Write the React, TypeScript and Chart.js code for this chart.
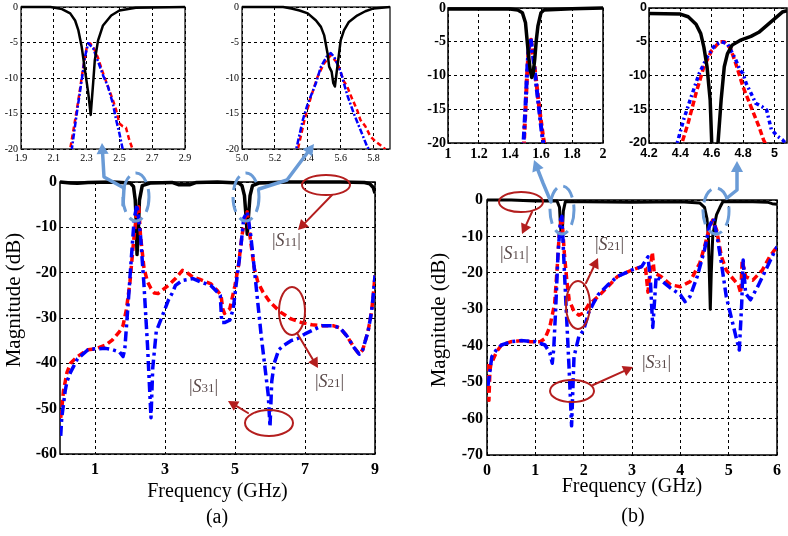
import React, { useEffect, useRef } from "react";
import { Chart, registerables } from "chart.js";
Chart.register(...registerables);

// ---------------- DATA ----------------
// (a) main chart
const A_X_TICKS = [1, 3, 5, 7, 9];
const A_Y_TICKS = [0, -10, -20, -30, -40, -50, -60];
const A_S11_F = [0, 0.3, 0.5, 0.8, 1.5, 2.0, 2.1, 2.15, 2.18, 2.2, 2.23, 2.27, 2.35, 2.6, 3.2, 3.4, 3.7, 3.9, 4.5, 5.1, 5.2, 5.27, 5.32, 5.35, 5.38, 5.43, 5.5, 5.7, 6.5, 8.0, 8.7, 8.85, 8.95, 9.0];
const A_S11_DB = [0, -0.2, -0.3, -0.1, 0, -0.2, -1, -4, -9, -16, -12, -4, -0.8, -0.2, -0.1, -0.6, -0.6, -0.1, 0, -0.2, -0.8, -3, -8, -11.5, -8, -3, -0.8, -0.2, 0, 0, -0.1, -0.4, -1.2, -2.5];
const A_S21_F = [0.02, 0.05, 0.1, 0.15, 0.2, 0.3, 0.5, 0.8, 1.0, 1.3, 1.5, 1.7, 1.8, 1.9, 2.0, 2.1, 2.2, 2.25, 2.3, 2.4, 2.5, 2.6, 2.7, 2.8, 2.9, 3.1, 3.3, 3.5, 3.6, 3.8, 4.0, 4.3, 4.5, 4.6, 4.65, 4.7, 4.85, 5.0, 5.1, 5.2, 5.3, 5.35, 5.45, 5.55, 5.65, 5.8, 6.0, 6.3, 6.6, 6.9, 7.2, 7.5, 7.8, 8.0, 8.2, 8.4, 8.55, 8.65, 8.8, 8.9, 8.95, 9.0];
const A_S21_DB = [-52, -50, -46, -44, -42, -40, -38.5, -37, -36.8, -36, -34.8, -33, -31.7, -28, -22, -13.3, -6, -5.5, -11.8, -19, -22, -23.5, -24.5, -24.6, -24, -22.8, -21.3, -19.5, -19.8, -21, -21.5, -22.4, -24, -25, -28, -29, -28, -22.8, -18.4, -11.8, -7.4, -6.6, -13.3, -19, -22, -24.3, -26.5, -28.7, -30.2, -31, -31.5, -31.7, -31.7, -32.2, -34, -36.5, -38, -37, -33, -28.7, -25, -20.6];
const A_S31_F = [0.02, 0.05, 0.1, 0.15, 0.2, 0.3, 0.5, 0.8, 1.0, 1.3, 1.5, 1.7, 1.8, 1.85, 1.95, 2.05, 2.12, 2.2, 2.3, 2.4, 2.5, 2.55, 2.6, 2.65, 2.75, 2.9, 3.0, 3.1, 3.2, 3.3, 3.5, 3.8, 4.0, 4.3, 4.5, 4.58, 4.62, 4.7, 4.85, 4.95, 5.05, 5.15, 5.25, 5.35, 5.45, 5.55, 5.65, 5.75, 5.85, 5.95, 6.0, 6.05, 6.12, 6.25, 6.4, 6.6, 6.8, 7.0, 7.3, 7.5, 7.8, 8.0, 8.2, 8.4, 8.55, 8.65, 8.8, 8.9, 8.95, 9.0];
const A_S31_DB = [-56, -52, -49, -46, -44, -42, -39, -37, -36.8, -36.7, -37, -37.5, -38.5, -37, -26.5, -15.5, -8.1, -5, -11.8, -22.8, -36, -44, -52, -41, -33, -30, -28, -26, -24.6, -22.8, -21.7, -21.3, -22, -22.8, -24.3, -25, -31, -31, -30.5, -28, -21.5, -15.5, -8, -6.6, -11.8, -19, -26.5, -34, -40.5, -47, -54, -44, -40, -37, -36, -35, -34.5, -33.5, -32.4, -31.7, -31.7, -32.2, -34, -36.5, -38, -37, -33, -28.7, -25, -20.6];

// (a) inset 1
const A1_X_TICKS = [1.9, 2.1, 2.3, 2.5, 2.7, 2.9];
const INSET_Y_TICKS = [0, -5, -10, -15, -20];
const A1_S11_F = [1.9, 2.08, 2.15, 2.2, 2.23, 2.25, 2.27, 2.29, 2.31, 2.325, 2.34, 2.35, 2.37, 2.4, 2.45, 2.5, 2.6, 2.9];
const A1_S11_DB = [0, 0, -0.3, -0.9, -1.9, -3.3, -5.6, -8.9, -12.1, -15.2, -10.7, -7.5, -4.7, -2.6, -1.2, -0.5, -0.1, 0];
const A1_S21_F = [2.19, 2.2, 2.22, 2.25, 2.28, 2.3, 2.32, 2.34, 2.37, 2.4, 2.43, 2.46, 2.48, 2.5, 2.52, 2.54, 2.56, 2.58, 2.59];
const A1_S21_DB = [-22, -20, -17.3, -13.1, -8.4, -5.8, -5.1, -5.6, -7.2, -9.3, -11.2, -13.1, -14.5, -16.4, -16.8, -17, -18.7, -20, -21];
const A1_S31_F = [2.205, 2.21, 2.24, 2.27, 2.29, 2.31, 2.34, 2.37, 2.4, 2.43, 2.46, 2.48, 2.5, 2.52, 2.525];
const A1_S31_DB = [-22, -20, -15, -10.3, -7, -5.1, -5.8, -7.7, -9.6, -11.2, -13.6, -15.9, -17.8, -20, -21];

// (a) inset 2
const A2_X_TICKS = [5.0, 5.2, 5.4, 5.6, 5.8];
const A2_S11_F = [5.0, 5.25, 5.3, 5.35, 5.4, 5.45, 5.48, 5.5, 5.52, 5.53, 5.545, 5.555, 5.565, 5.575, 5.585, 5.6, 5.62, 5.65, 5.7, 5.75, 5.8, 5.9];
const A2_S11_DB = [0, 0, -0.2, -0.5, -0.9, -1.9, -2.8, -4, -6.5, -8.4, -9.1, -10.7, -11.2, -9.3, -7.5, -4.7, -3.3, -2.1, -1.2, -0.6, -0.2, 0];
const A2_S21_F = [5.33, 5.34, 5.38, 5.42, 5.46, 5.5, 5.54, 5.58, 5.62, 5.64, 5.66, 5.7, 5.72, 5.75, 5.78, 5.81, 5.85, 5.87, 5.88];
const A2_S21_DB = [-21, -20, -15.9, -12.6, -9.8, -7.9, -6.8, -7.9, -10.5, -11.2, -12.4, -14.5, -15.9, -16.8, -18.2, -18.9, -19.6, -20, -20.5];
const A2_S31_F = [5.32, 5.33, 5.37, 5.4, 5.45, 5.48, 5.52, 5.54, 5.56, 5.6, 5.64, 5.68, 5.72, 5.76, 5.77, 5.78];
const A2_S31_DB = [-21, -20, -15.9, -13.6, -10.7, -8.4, -6.8, -6.5, -7, -9.1, -12.4, -15, -17.3, -19.6, -20, -20.5];

// (b) main chart
const B_X_TICKS = [0, 1, 2, 3, 4, 5, 6];
const B_Y_TICKS = [0, -10, -20, -30, -40, -50, -60, -70];
const B_S11_F = [0, 0.5, 1.0, 1.45, 1.5, 1.52, 1.54, 1.56, 1.58, 1.62, 2.0, 3.0, 4.0, 4.4, 4.5, 4.55, 4.58, 4.6, 4.62, 4.64, 4.67, 4.72, 4.75, 4.82, 4.88, 5.0, 5.5, 5.8, 5.9, 6.0];
const B_S11_DB = [0, 0, -0.3, -0.3, -2, -7, -10, -8, -3, -0.5, -0.5, -0.6, -0.5, -0.8, -2, -5, -10, -20, -30, -20, -10, -6, -4, -2, -0.5, -0.5, -0.5, -0.6, -1.0, -1.2];
const B_S21_F = [0.02, 0.04, 0.06, 0.08, 0.12, 0.2, 0.3, 0.5, 0.7, 0.9, 1.1, 1.2, 1.3, 1.4, 1.45, 1.5, 1.55, 1.6, 1.65, 1.7, 1.8, 1.9, 2.0, 2.1, 2.3, 2.5, 2.7, 3.0, 3.2, 3.28, 3.33, 3.37, 3.42, 3.46, 3.6, 3.8, 4.0, 4.2, 4.4, 4.5, 4.6, 4.67, 4.75, 4.85, 4.95, 5.05, 5.2, 5.25, 5.28, 5.35, 5.5, 5.7, 5.85, 6.0];
const B_S21_DB = [-45, -55, -47, -45, -44, -41.6, -39.8, -38.9, -38.6, -38.9, -38.9, -38, -34.8, -28.4, -19, -8.2, -4.6, -14.6, -22, -27.4, -30.6, -31.6, -31, -28.8, -26.5, -23.8, -21, -19.2, -18.3, -18.7, -25.3, -20, -14.3, -20, -21, -23.3, -23.8, -22.4, -17.4, -12.8, -7.8, -5.5, -8.2, -15.5, -19.2, -21, -23.3, -25.6, -16.5, -21, -22, -19.2, -15.5, -12.8];
const B_S31_F = [0.02, 0.05, 0.1, 0.2, 0.3, 0.5, 0.7, 1.0, 1.2, 1.3, 1.35, 1.38, 1.42, 1.47, 1.52, 1.55, 1.6, 1.65, 1.7, 1.75, 1.8, 1.9, 2.0, 2.1, 2.2, 2.3, 2.5, 2.7, 3.0, 3.2, 3.33, 3.38, 3.43, 3.5, 3.6, 3.8, 4.0, 4.1, 4.2, 4.35, 4.5, 4.6, 4.68, 4.75, 4.85, 4.95, 5.05, 5.15, 5.22, 5.27, 5.3, 5.35, 5.45, 5.6, 5.8, 6.0];
const B_S31_DB = [-51, -48, -43, -41, -39.8, -38.9, -38.6, -38.9, -39.8, -42, -44.8, -41, -30.2, -14.6, -5.5, -4.5, -19.2, -33, -46.7, -62, -43, -37.5, -35.7, -31, -28.4, -26, -23.3, -21, -19.2, -18.3, -15.6, -22, -35, -21, -22, -24.2, -26, -27.9, -26.5, -21, -13.7, -7.3, -5, -9.1, -17.4, -26.5, -32, -37.5, -41.2, -28.4, -16.5, -25.6, -27.4, -23.8, -18.3, -12.8];

// (b) inset 1
const B1_X_TICKS = [1, 1.2, 1.4, 1.6, 1.8, 2];
const B1_S11_F = [1.0, 1.4, 1.45, 1.48, 1.5, 1.51, 1.52, 1.53, 1.54, 1.55, 1.56, 1.57, 1.58, 1.6, 1.62, 1.8, 2.0];
const B1_S11_DB = [-0.15, -0.15, -0.3, -0.7, -2.2, -4.7, -7.1, -9.1, -10.3, -9.6, -7.5, -4.7, -2.7, -0.7, -0.3, -0.1, 0];
const B1_S21_F = [1.485, 1.49, 1.5, 1.51, 1.52, 1.535, 1.55, 1.57, 1.59, 1.61, 1.62, 1.625];
const B1_S21_DB = [-22, -20, -15, -10, -6.2, -4.7, -7.1, -11, -15, -18.5, -20, -21];
const B1_S31_F = [1.48, 1.487, 1.5, 1.51, 1.52, 1.533, 1.55, 1.57, 1.59, 1.605, 1.615, 1.62];
const B1_S31_DB = [-22, -20, -14.5, -9.5, -6, -4.5, -7.3, -11.5, -15.5, -18.5, -20, -21];

// (b) inset 2
const B2_X_TICKS = [4.2, 4.4, 4.6, 4.8, 5];
const B2_S11_F = [4.2, 4.4, 4.45, 4.5, 4.53, 4.55, 4.57, 4.59, 4.6, 4.62, 4.64, 4.66, 4.68, 4.7, 4.73, 4.78, 4.85, 4.9, 4.95, 5.0, 5.05, 5.08];
const B2_S11_DB = [-0.8, -0.9, -1.3, -2.4, -3.8, -5.8, -8.7, -13.6, -20, -30, -20, -13.6, -8.7, -6.8, -5.5, -4.8, -4.2, -3.6, -2.6, -1.6, -0.6, -0.4];
const B2_S21_F = [4.4, 4.41, 4.45, 4.5, 4.55, 4.6, 4.65, 4.68, 4.72, 4.76, 4.8, 4.85, 4.9, 4.93, 4.94, 4.95];
const B2_S21_DB = [-21, -20, -17, -12.6, -8.7, -6.3, -5, -5, -6, -8.7, -11.7, -14.6, -17.5, -19.5, -20, -21];
const B2_S31_F = [4.37, 4.38, 4.42, 4.47, 4.52, 4.57, 4.62, 4.66, 4.7, 4.75, 4.78, 4.8, 4.82, 4.85, 4.88, 4.92, 4.95, 4.98, 5.02, 5.05, 5.07, 5.08];
const B2_S31_DB = [-21, -20, -16.6, -13.1, -9.7, -7.3, -5.5, -5, -5.3, -7.5, -9.2, -9.7, -11.2, -12.6, -14.1, -14.6, -15.1, -18, -19, -19.5, -20, -20.5];

// ---------------- STYLE / LAYOUT ----------------
const SERIF = "'Times New Roman', 'Liberation Serif', serif";
const SANS = "Arial, 'Liberation Sans', sans-serif";
const RED = "#ff0000";
const BLUE = "#0000ff";
const BLACK = "#000000";
const ANNO_RED = "#b41e1e";
const ANNO_BLUE = "#6a9bd6";
const LABEL_COL = "#5a4a4a";

type Series = { f: number[]; db: number[]; color: string; width: number; dash: number[] };
type Spec = {
  left: number; top: number; right: number; bottom: number;
  yAxisW: number; xAxisH: number; padTop: number; padRight: number;
  xMin: number; xMax: number; yMin: number; yMax: number;
  xTicks: number[]; yTicks: number[]; xFmt: (v: number) => string;
  fontFamily: string; fontSize: number; fontWeight: string;
  xPad: number; yPad: number; gridDash: number[]; frameW: number;
  xTitle?: string; xTitleSize?: number;
  series: Series[];
};

const framePlugin = {
  id: "frame",
  beforeDatasetsDraw(chart: any) {
    const { ctx, chartArea: a } = chart;
    const w = chart.options.plugins.frame?.width ?? 1.5;
    ctx.save();
    ctx.strokeStyle = "#000";
    ctx.lineWidth = w;
    ctx.strokeRect(a.left, a.top, a.right - a.left, a.bottom - a.top);
    ctx.restore();
  },
};

function ChartBox({ spec }: { spec: Spec }) {
  const ref = useRef<HTMLCanvasElement>(null);
  const cl = spec.left - spec.yAxisW;
  const ct = spec.top - spec.padTop;
  const cw = spec.right + spec.padRight - cl;
  const ch = spec.bottom + spec.xAxisH - ct;
  useEffect(() => {
    const font = { family: spec.fontFamily, size: spec.fontSize, weight: spec.fontWeight as any };
    const chart = new Chart(ref.current as HTMLCanvasElement, {
      type: "line",
      data: {
        datasets: spec.series.map((s) => ({
          data: s.f.map((x, i) => ({ x, y: s.db[i] })),
          borderColor: s.color,
          borderWidth: s.width,
          borderDash: s.dash,
          pointRadius: 0,
          fill: false,
          tension: 0,
          borderJoinStyle: "round" as const,
          clip: { left: 0, right: 0, top: 4, bottom: 0 } as any,
        })),
      },
      options: {
        responsive: false,
        animation: false,
        devicePixelRatio: 1,
        events: [],
        layout: { padding: { top: spec.padTop, right: spec.padRight, left: 0, bottom: 0 } },
        plugins: { legend: { display: false }, tooltip: { enabled: false }, frame: { width: spec.frameW } } as any,
        scales: {
          x: {
            type: "linear",
            min: spec.xMin,
            max: spec.xMax,
            afterBuildTicks: (sc: any) => { sc.ticks = spec.xTicks.map((v) => ({ value: v })); },
            afterFit: (sc: any) => { sc.height = spec.xAxisH; },
            ticks: { callback: (v: any) => spec.xFmt(Number(v)), font, color: "#000", padding: spec.xPad, maxRotation: 0, autoSkip: false },
            grid: { color: "#000", lineWidth: 1, drawTicks: false },
            border: { display: false, dash: spec.gridDash },
            title: spec.xTitle
              ? { display: true, text: spec.xTitle, color: "#000", font: { family: SERIF, size: spec.xTitleSize, weight: "normal" as any }, padding: { top: 0, bottom: 2 } }
              : { display: false },
          },
          y: {
            type: "linear",
            min: spec.yMin,
            max: spec.yMax,
            afterBuildTicks: (sc: any) => { sc.ticks = spec.yTicks.map((v) => ({ value: v })); },
            afterFit: (sc: any) => { sc.width = spec.yAxisW; },
            ticks: { callback: (v: any) => String(v), font, color: "#000", padding: spec.yPad, autoSkip: false },
            grid: { color: "#000", lineWidth: 1, drawTicks: false },
            border: { display: false, dash: spec.gridDash },
          },
        },
      } as any,
      plugins: [framePlugin],
    });
    return () => chart.destroy();
  }, []);
  return (
    <canvas
      ref={ref}
      width={cw}
      height={ch}
      style={{ position: "absolute", left: cl, top: ct, width: cw, height: ch }}
    />
  );
}

const fmt1 = (v: number) => v.toFixed(1);
const fmtN = (v: number) => String(v);

const MAIN_A: Spec = {
  left: 60, top: 182, right: 375, bottom: 454,
  yAxisW: 60, xAxisH: 52, padTop: 14, padRight: 12,
  xMin: 0, xMax: 9, yMin: -60, yMax: 0,
  xTicks: A_X_TICKS, yTicks: A_Y_TICKS, xFmt: fmtN,
  fontFamily: SERIF, fontSize: 16, fontWeight: "bold",
  xPad: 6, yPad: 3, gridDash: [3, 3], frameW: 1.5,
  xTitle: "Frequency (GHz)", xTitleSize: 20,
  series: [
    { f: A_S31_F, db: A_S31_DB, color: BLUE, width: 3.5, dash: [10, 4, 3, 4] },
    { f: A_S21_F, db: A_S21_DB, color: RED, width: 3.5, dash: [7, 4] },
    { f: A_S11_F, db: A_S11_DB, color: BLACK, width: 3.5, dash: [] },
  ],
};

const MAIN_B: Spec = {
  left: 487, top: 200, right: 780, bottom: 455,
  yAxisW: 63, xAxisH: 46, padTop: 14, padRight: 7,
  xMin: 0, xMax: 6, yMin: -70, yMax: 0,
  xTicks: B_X_TICKS, yTicks: B_Y_TICKS, xFmt: fmtN,
  fontFamily: SERIF, fontSize: 16, fontWeight: "bold",
  xPad: 6, yPad: 4, gridDash: [3, 3], frameW: 1.5,
  xTitle: "Frequency (GHz)", xTitleSize: 20,
  series: [
    { f: B_S31_F, db: B_S31_DB, color: BLUE, width: 3.5, dash: [10, 4, 3, 4] },
    { f: B_S21_F, db: B_S21_DB, color: RED, width: 3.5, dash: [7, 4] },
    { f: B_S11_F, db: B_S11_DB, color: BLACK, width: 3, dash: [] },
  ],
};

const INSET_A1: Spec = {
  left: 21, top: 7, right: 185, bottom: 149,
  yAxisW: 21, xAxisH: 18, padTop: 12, padRight: 10,
  xMin: 1.9, xMax: 2.9, yMin: -20, yMax: 0,
  xTicks: A1_X_TICKS, yTicks: INSET_Y_TICKS, xFmt: fmt1,
  fontFamily: SERIF, fontSize: 10, fontWeight: "normal",
  xPad: 3, yPad: 3, gridDash: [3, 3], frameW: 1.2,
  series: [
    { f: A1_S11_F, db: A1_S11_DB, color: BLACK, width: 2.5, dash: [] },
    { f: A1_S31_F, db: A1_S31_DB, color: BLUE, width: 2.5, dash: [6, 2, 2, 2] },
    { f: A1_S21_F, db: A1_S21_DB, color: RED, width: 2.5, dash: [5, 3] },
  ],
};

const INSET_A2: Spec = {
  left: 242, top: 7, right: 390, bottom: 149,
  yAxisW: 25, xAxisH: 18, padTop: 12, padRight: 10,
  xMin: 5.0, xMax: 5.9, yMin: -20, yMax: 0,
  xTicks: A2_X_TICKS, yTicks: INSET_Y_TICKS, xFmt: fmt1,
  fontFamily: SERIF, fontSize: 10, fontWeight: "normal",
  xPad: 3, yPad: 3, gridDash: [3, 3], frameW: 1.2,
  series: [
    { f: A2_S11_F, db: A2_S11_DB, color: BLACK, width: 2.5, dash: [] },
    { f: A2_S31_F, db: A2_S31_DB, color: BLUE, width: 2.5, dash: [6, 2, 2, 2] },
    { f: A2_S21_F, db: A2_S21_DB, color: RED, width: 2.5, dash: [5, 3] },
  ],
};

const INSET_B1: Spec = {
  left: 448, top: 8, right: 603, bottom: 143,
  yAxisW: 26, xAxisH: 20, padTop: 12, padRight: 8,
  xMin: 1, xMax: 2, yMin: -20, yMax: 0,
  xTicks: B1_X_TICKS, yTicks: INSET_Y_TICKS, xFmt: fmtN,
  fontFamily: SERIF, fontSize: 14, fontWeight: "bold",
  xPad: 3, yPad: 2, gridDash: [3, 3], frameW: 1.5,
  series: [
    { f: B1_S11_F, db: B1_S11_DB, color: BLACK, width: 3.5, dash: [] },
    { f: B1_S31_F, db: B1_S31_DB, color: BLUE, width: 4, dash: [8, 3, 3, 3] },
    { f: B1_S21_F, db: B1_S21_DB, color: RED, width: 4, dash: [6, 3] },
  ],
};

const INSET_B2: Spec = {
  left: 649, top: 8, right: 787, bottom: 143,
  yAxisW: 28, xAxisH: 20, padTop: 12, padRight: 8,
  xMin: 4.2, xMax: 5.08, yMin: -20, yMax: 0,
  xTicks: B2_X_TICKS, yTicks: INSET_Y_TICKS, xFmt: fmtN,
  fontFamily: SANS, fontSize: 12.5, fontWeight: "bold",
  xPad: 3, yPad: 2, gridDash: [3, 3], frameW: 1.5,
  series: [
    { f: B2_S11_F, db: B2_S11_DB, color: BLACK, width: 3.5, dash: [] },
    { f: B2_S31_F, db: B2_S31_DB, color: BLUE, width: 3.5, dash: [4, 3, 2, 3] },
    { f: B2_S21_F, db: B2_S21_DB, color: RED, width: 3.5, dash: [6, 3] },
  ],
};

// ---------------- ANNOTATIONS ----------------
type Pt = [number, number];
function Arrow({ pts, color, width, head }: { pts: Pt[]; color: string; width: number; head: number }) {
  const n = pts.length;
  const [x1, y1] = pts[n - 2];
  const [x2, y2] = pts[n - 1];
  const ang = Math.atan2(y2 - y1, x2 - x1);
  const L = head;
  const W = head * 0.55;
  const bx = x2 - L * Math.cos(ang);
  const by = y2 - L * Math.sin(ang);
  const p1 = [bx + W * Math.sin(ang), by - W * Math.cos(ang)];
  const p2 = [bx - W * Math.sin(ang), by + W * Math.cos(ang)];
  const line = [...pts.slice(0, -1), [bx, by]];
  return (
    <g>
      <polyline points={line.map((p) => p.join(",")).join(" ")} fill="none" stroke={color} strokeWidth={width} strokeLinecap="round" strokeLinejoin="round" />
      <polygon points={`${x2},${y2} ${p1.join(",")} ${p2.join(",")}`} fill={color} />
    </g>
  );
}

function SLabel({ x, y, sub }: { x: number; y: number; sub: string }) {
  return (
    <text x={x} y={y} fontFamily={SERIF} fontSize={18} fill={LABEL_COL}>
      |<tspan fontStyle="italic">S</tspan><tspan fontSize={13}>{sub}</tspan>|
    </text>
  );
}

function Overlay() {
  const blueEl = { fill: "none", stroke: ANNO_BLUE, strokeWidth: 3, strokeDasharray: "15 7" };
  const redEl = { fill: "none", stroke: ANNO_RED, strokeWidth: 2 };
  return (
    <svg width={788} height={536} style={{ position: "absolute", left: 0, top: 0, pointerEvents: "none" }}>
      {/* axis titles */}
      <text transform="translate(20,300) rotate(-90)" textAnchor="middle" fontFamily={SERIF} fontSize={21} fill="#000">Magnitude (dB)</text>
      <text transform="translate(445,320) rotate(-90)" textAnchor="middle" fontFamily={SERIF} fontSize={21} fill="#000">Magnitude (dB)</text>
      <text x={217} y={523} textAnchor="middle" fontFamily={SERIF} fontSize={20} fill="#000">(a)</text>
      <text x={633} y={522} textAnchor="middle" fontFamily={SERIF} fontSize={20} fill="#000">(b)</text>

      {/* (a) blue zoom marks */}
      <ellipse cx={136} cy={197} rx={13} ry={24} {...blueEl} />
      <Arrow pts={[[123, 205], [124, 188], [104, 177], [102, 143]]} color={ANNO_BLUE} width={3.5} head={11} />
      <ellipse cx={246} cy={197} rx={13} ry={24} {...blueEl} />
      <Arrow pts={[[259, 189], [287, 180], [314, 144]]} color={ANNO_BLUE} width={3.5} head={11} />

      {/* (b) blue zoom marks */}
      <ellipse cx={562} cy={210} rx={12} ry={24} {...blueEl} />
      <Arrow pts={[[551, 202], [543, 183], [534, 160]]} color={ANNO_BLUE} width={3.5} head={11} />
      <ellipse cx={716} cy={211} rx={13} ry={23} {...blueEl} />
      <Arrow pts={[[727, 198], [737, 190], [737, 161]]} color={ANNO_BLUE} width={3.5} head={11} />

      {/* (a) red callouts */}
      <ellipse cx={326} cy={185} rx={24} ry={10} {...redEl} />
      <Arrow pts={[[332, 195], [298, 230]]} color={ANNO_RED} width={2} head={10} />
      <SLabel x={272} y={246} sub="11" />
      <ellipse cx={292} cy={311} rx={13} ry={24} {...redEl} />
      <Arrow pts={[[297, 333], [318, 368]]} color={ANNO_RED} width={2} head={10} />
      <SLabel x={315} y={387} sub="21" />
      <ellipse cx={269} cy={423} rx={24} ry={13} {...redEl} />
      <Arrow pts={[[248, 413], [228, 401]]} color={ANNO_RED} width={2} head={10} />
      <SLabel x={189} y={392} sub="31" />

      {/* (b) red callouts */}
      <ellipse cx={521} cy={202} rx={22} ry={10} {...redEl} />
      <Arrow pts={[[532, 212], [522, 234]]} color={ANNO_RED} width={2} head={10} />
      <SLabel x={500} y={259} sub="11" />
      <ellipse cx={578} cy={305} rx={12} ry={24} {...redEl} />
      <Arrow pts={[[586, 283], [598, 258]]} color={ANNO_RED} width={2} head={10} />
      <SLabel x={595} y={250} sub="21" />
      <ellipse cx={572} cy={391} rx={22} ry={11} {...redEl} />
      <Arrow pts={[[593, 385], [633, 367]]} color={ANNO_RED} width={2} head={10} />
      <SLabel x={642} y={368} sub="31" />
    </svg>
  );
}

export default function App() {
  return (
    <div style={{ position: "absolute", left: 0, top: 0, width: 788, height: 536, overflow: "hidden", background: "#fff" }}>
      <ChartBox spec={MAIN_A} />
      <ChartBox spec={MAIN_B} />
      <ChartBox spec={INSET_A1} />
      <ChartBox spec={INSET_A2} />
      <ChartBox spec={INSET_B1} />
      <ChartBox spec={INSET_B2} />
      <Overlay />
    </div>
  );
}
